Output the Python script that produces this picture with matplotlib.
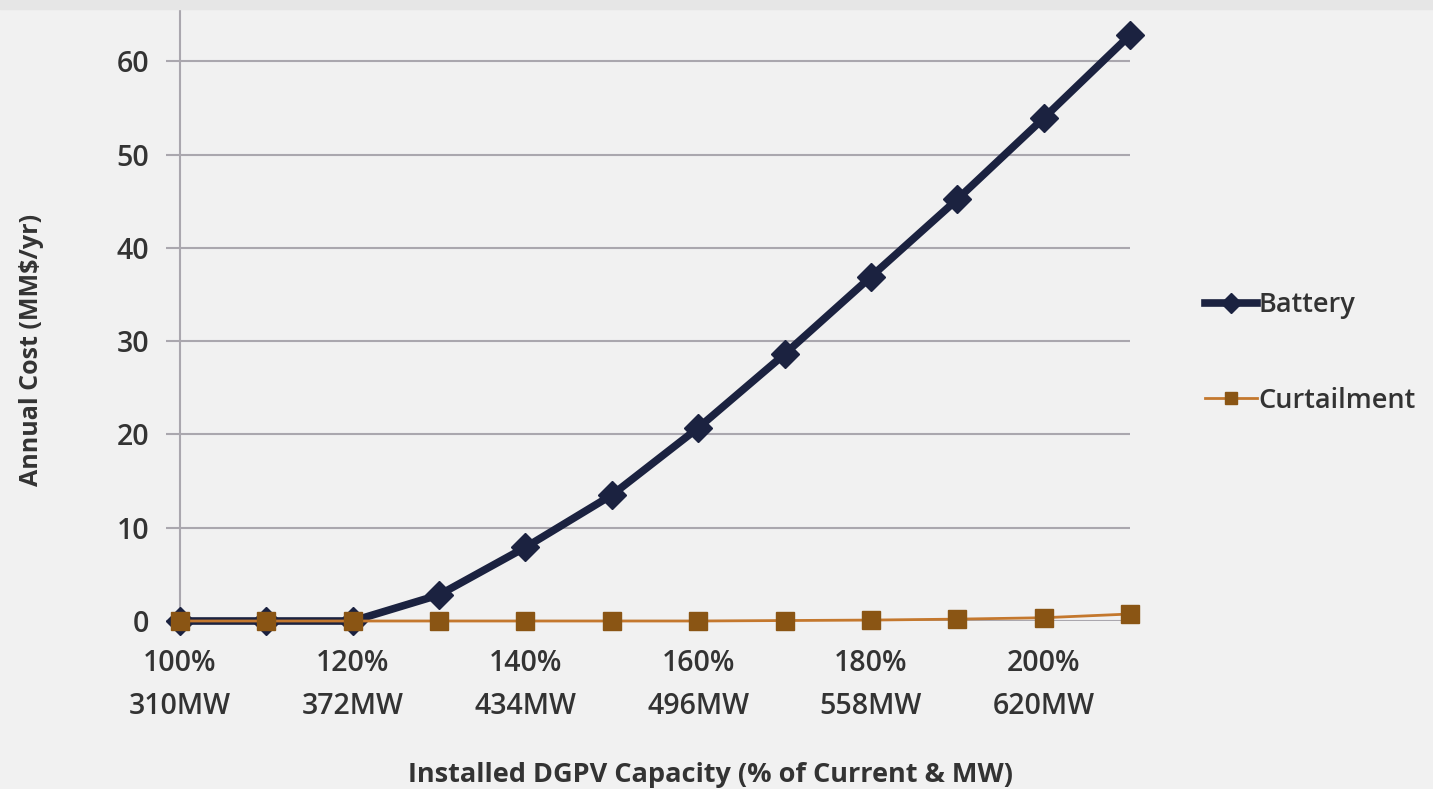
import matplotlib
matplotlib.use('Agg')
import matplotlib.pyplot as plt
from matplotlib.patches import Rectangle

# installed DGPV capacity categories
pct = ['100%', '110%', '120%', '130%', '140%', '150%', '160%', '170%', '180%', '190%', '200%', '210%']
mw = ['310MW', '341MW', '372MW', '403MW', '434MW', '465MW', '496MW', '527MW', '558MW', '589MW', '620MW', '651MW']

# annual cost, MM$/yr
battery = [0.0, 0.0, 0.0, 2.8, 7.9, 13.5, 20.7, 28.6, 36.9, 45.2, 53.9, 62.8]
curtailment = [0.0, 0.0, 0.0, 0.0, 0.0, 0.0, 0.0, 0.05, 0.1, 0.2, 0.35, 0.75]

plt.rcParams['font.family'] = ['Open Sans', 'DejaVu Sans']
txt = '#333333'
bg = '#f1f1f1'
grid = '#aaa7ae'

fig = plt.figure(figsize=(14.33, 7.89), dpi=100, facecolor=bg)
fig.patches.append(Rectangle((0, 1 - 9 / 789), 1, 9 / 789, transform=fig.transFigure,
                             color='#e6e6e6', zorder=0))
ax = fig.add_axes([180 / 1433, 1 - 621 / 789, 950 / 1433, 612 / 789])
ax.set_facecolor(bg)

x = list(range(len(pct)))
ax.plot(x, battery, color='#1b2240', lw=5.5, marker='D', ms=14, mec='#1b2240',
        label='Battery', clip_on=False, zorder=3, solid_joinstyle='round')
ax.plot(x, curtailment, color='#c4782e', lw=2, marker='s', ms=12.5, mfc='#8a5514',
        mec='#8a5514', label='Curtailment', clip_on=False, zorder=4)

ax.set_xlim(0, len(pct) - 1)
ax.set_ylim(0, 65.6)
ax.set_yticks(range(0, 61, 10))
ax.yaxis.grid(True, color=grid, lw=1.5)
ax.set_axisbelow(True)

ticks = x[::2]
ax.set_xticks(ticks)
ax.set_xticklabels([pct[i] + '\n' + mw[i] for i in ticks], linespacing=1.66,
                   fontweight=600)
ax.tick_params(axis='x', length=0, pad=20, labelsize=20.5, labelcolor=txt)
ax.tick_params(axis='y', length=10, width=1.5, color=grid, pad=12, labelsize=20.5,
               labelcolor=txt)
for lab in ax.get_yticklabels():
    lab.set_fontweight(600)

for s in ['top', 'right', 'bottom']:
    ax.spines[s].set_visible(False)
ax.spines['left'].set_color(grid)
ax.spines['left'].set_linewidth(1.5)

fig.text(710 / 1433, 1 - 775 / 789, 'Installed DGPV Capacity (% of Current & MW)',
         ha='center', va='center', fontsize=19.5, fontweight='bold', color=txt)
fig.text(32 / 1433, 1 - 350 / 789, 'Annual Cost (MM$/yr)', rotation=90,
         ha='center', va='center', fontsize=18, fontweight='bold', color=txt)

leg = ax.legend(loc='center left', bbox_to_anchor=(1181 / 1433, 1 - 353 / 789),
                bbox_transform=fig.transFigure, frameon=False, fontsize=19.5,
                handlelength=1.9, handletextpad=0.05, labelspacing=2.5, markerscale=0.7,
                prop={'size': 19.5, 'weight': 600})
for t in leg.get_texts():
    t.set_color(txt)

fig.savefig('out.png', dpi=100, facecolor=bg)
